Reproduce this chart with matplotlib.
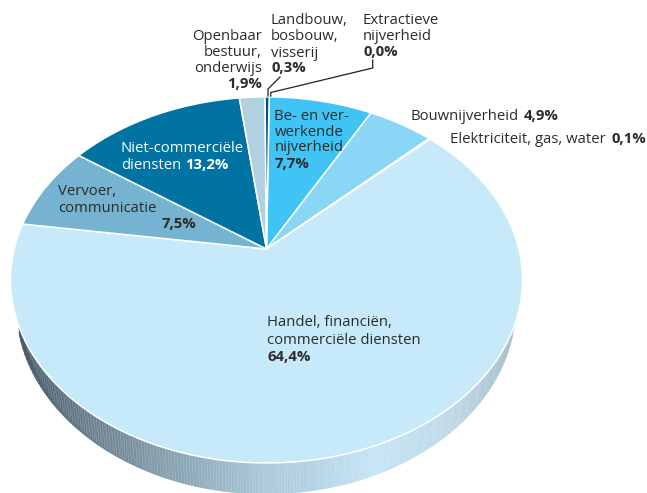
import numpy as np
import matplotlib
matplotlib.use("Agg")
import matplotlib.pyplot as plt
from matplotlib.collections import PolyCollection, LineCollection
from matplotlib.colors import LinearSegmentedColormap

# shares in percent, clockwise from the top
sectors = ["Extractieve nijverheid", "Be- en verwerkende nijverheid", "Bouwnijverheid",
           "Elektriciteit, gas, water", "Handel, financiën, commerciële diensten",
           "Vervoer, communicatie", "Niet-commerciële diensten",
           "Openbaar bestuur, onderwijs", "Landbouw, bosbouw, visserij"]
shares = [0.0, 7.7, 4.9, 0.1, 64.4, 7.5, 13.2, 1.9, 0.3]
colors = ["#004a70", "#3fc4f5", "#8ad6f7", "#c7eafb", "#c7eafb",
          "#76b3d0", "#0073a3", "#b1d1e1", "#00517a"]

plt.rcParams["font.family"] = ["Open Sans", "DejaVu Sans"]
TXT = "#2b2b2b"
FS = 10.7

fig = plt.figure(figsize=(6.47, 4.93), dpi=100)
ax = fig.add_axes([0, 0, 1, 1])
ax.set_xlim(0, 647)
ax.set_ylim(493, 0)
ax.axis("off")

# perspective view of the round pie: apex is not the middle of the ellipse
CX, CY = 266.5, 249
K, A, B = 0.169, 252.3, 177.8


def project(share):
    ang = np.radians(np.asarray(share) * 3.6 + 0.7)
    x, y = np.sin(ang), np.cos(ang)
    d = 1 + K * y
    return CX + A * x / d, CY - B * y / d


def side_edges(x):
    top = 280 + 183 * np.sqrt(np.clip(1 - ((x - 266) / 256) ** 2, 0, 1))
    low = 305 + 189 * np.sqrt(np.clip(1 - ((x - 266) / 250) ** 2, 0, 1))
    return top, np.maximum(low, top)


# side of the pie
side_cmap = LinearSegmentedColormap.from_list("side", [
    (0.0, "#46596a"), (0.12, "#5f7785"), (0.3, "#859fae"), (0.5, "#a8c6d8"),
    (0.72, "#c6e5f5"), (0.88, "#bcd9e8"), (1.0, "#a9c0cd")])
xs = np.linspace(19, 514, 250)
top, low = side_edges(xs)
quads = [[(xs[i], top[i]), (xs[i + 1], top[i + 1]), (xs[i + 1], low[i + 1]), (xs[i], low[i])]
         for i in range(len(xs) - 1)]
side = PolyCollection(quads, cmap=side_cmap, edgecolors="face", linewidths=0.3)
side.set_array((xs[:-1] - 19) / 495)
ax.add_collection(side)

# faint facet lines on the side, dense on the left and sparse on the right
fx = np.r_[np.arange(24, 300, 3.0), np.arange(300, 500, 9.0)]
ft, fl = side_edges(fx)
slant = (fx - 266) / 256 * 5
segs = [[(a, b), (a - s, c)] for a, b, c, s in zip(fx, ft, fl, slant)]
ax.add_collection(LineCollection(segs, colors="white", linewidths=0.5, alpha=0.22))

# top of the pie
edges = np.cumsum([0] + shares)
for i, share in enumerate(shares):
    if share == 0:
        continue
    t = np.linspace(edges[i], edges[i + 1], max(3, int(share * 8)))
    px, py = project(t)
    ax.fill(np.r_[CX, px], np.r_[CY, py], facecolor=colors[i], edgecolor="white",
            linewidth=1.1, joinstyle="round", zorder=2)

# leader lines
ax.plot([280, 268, 268], [77, 89, 96], color="#222222", lw=0.9, zorder=3)
ax.plot([372.7, 372.7, 270.8, 270.8], [60, 68, 92.5, 96], color="#222222", lw=0.9, zorder=3)


def label(x, y, text, bold=False, ha="left", color=TXT):
    ax.text(x, y, text, fontsize=FS, fontweight="bold" if bold else "normal", ha=ha,
            va="baseline", color=color, zorder=4)


label(271, 24, "Landbouw,")
label(271, 40, "bosbouw,")
label(271, 57, "visserij")
label(271, 72, "0,3%", True)

label(363, 24, "Extractieve")
label(363, 40, "nijverheid")
label(363, 56, "0,0%", True)

label(262, 40, "Openbaar", ha="right")
label(262, 56, "bestuur,", ha="right")
label(262, 72, "onderwijs", ha="right")
label(262, 88, "1,9%", True, ha="right")

label(274.5, 120, "Be- en ver-")
label(274.5, 136, "werkende")
label(274.5, 151, "nijverheid")
label(274.5, 168, "7,7%", True)

label(411, 120, "Bouwnijverheid")
label(524, 120, "4,9%", True)
label(450, 143, "Elektriciteit, gas, water")
label(612, 143, "0,1%", True)

label(121, 152, "Niet-commerciële", color="white")
label(121, 169, "diensten", color="white")
label(185, 169, "13,2%", True, color="white")

label(58, 195, "Vervoer,")
label(58, 212, "communicatie")
label(162, 228, "7,5%", True)

label(267, 326, "Handel, financiën,")
label(267, 344, "commerciële diensten")
label(267, 361, "64,4%", True)

fig.savefig("out.png", dpi=100)
